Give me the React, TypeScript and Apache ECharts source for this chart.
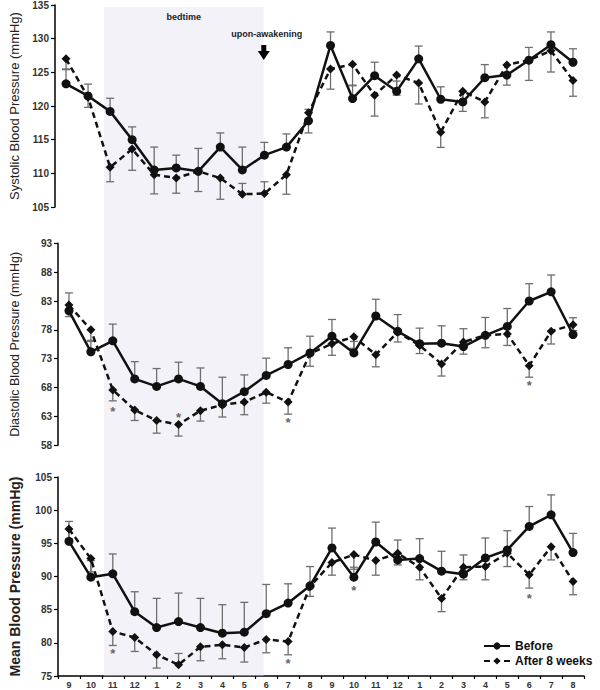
import React, { useEffect, useRef } from 'react';
import * as echarts from 'echarts';

// Clock hours (9 pm day 1 ... 8 pm day 2)
const hourLabels = ['9', '10', '11', '12', '1', '2', '3', '4', '5', '6', '7', '8', '9', '10', '11', '12', '1', '2', '3', '4', '5', '6', '7', '8'];

// Systolic
const sysBefore = [123.3, 121.5, 119.2, 115.0, 110.5, 110.8, 110.3, 113.9, 110.5, 112.7, 113.9, 117.8, 129.0, 121.1, 124.5, 122.2, 127.0, 121.0, 120.6, 124.2, 124.6, 126.8, 129.1, 126.5];
const sysAfter = [127.0, 121.3, 110.9, 113.6, 109.8, 109.3, 110.3, 109.3, 106.9, 107.0, 109.8, 119.0, 125.5, 126.2, 121.6, 124.6, 123.4, 116.1, 122.2, 120.6, 126.1, 126.8, 128.2, 123.8];
const sysBeforeErr = [2.1, 1.75, 1.95, 1.9, 3.4, 1.9, 3.4, 2.1, 3.4, 1.9, 1.95, 1.7, 2.0, 2.0, 2.0, 1.5, 1.9, 1.85, 1.5, 1.95, 1.5, 1.9, 1.9, 2.0];
// signed: negative = bar drawn downward
const sysAfterErr = [-1.5, -1.5, -2.15, -3.15, -2.85, -2.25, -3.0, -3.15, 1.6, 1.75, -2.9, -3.0, -3.0, -3.2, -3.1, -3.0, -3.1, -2.25, -3.0, -2.35, -3.0, -3.0, -3.15, -2.35];

// Diastolic
const diaBefore = [81.3, 74.2, 76.1, 69.5, 68.2, 69.5, 68.2, 65.2, 67.3, 70.1, 72.0, 74.0, 76.9, 74.0, 80.4, 77.75, 75.6, 75.7, 75.1, 77.05, 78.6, 83.0, 84.6, 77.2];
const diaAfter = [82.3, 78.0, 67.6, 64.1, 62.3, 61.6, 64.0, 65.0, 65.5, 67.2, 65.5, 73.9, 75.6, 76.8, 73.7, 77.6, 75.3, 72.1, 75.9, 77.05, 77.3, 71.8, 77.75, 78.9];
const diaBeforeErr = [3.1, 2.0, 2.9, 3.0, 3.1, 2.9, 3.2, 4.6, 2.9, 3.0, 2.9, 2.9, 2.9, 2.0, 2.9, 2.9, 2.7, 3.0, 3.1, 3.1, 3.1, 3.0, 2.9, 2.9];
const diaAfterErr = [-2.0, -2.0, -1.9, -1.8, -2.2, -2.0, -1.8, -2.1, -2.2, -1.9, -2.1, -2.2, -2.0, -2.0, -2.1, -1.7, -1.4, -2.1, -2.1, -2.15, -2.0, -2.0, -2.2, -1.0];
const diaStarIdx = [2, 5, 10, 21];
const diaStarVal = [64.3, 63.4, 62.4, 68.8];

// Mean
const meanBefore = [95.3, 89.9, 90.4, 84.7, 82.3, 83.2, 82.3, 81.45, 81.6, 84.4, 86.0, 88.6, 94.3, 89.9, 95.2, 92.5, 92.7, 90.8, 90.35, 92.8, 94.0, 97.55, 99.3, 93.6];
const meanAfter = [97.15, 92.7, 81.7, 80.8, 78.2, 76.7, 79.4, 79.7, 79.3, 80.5, 80.2, 88.5, 92.1, 93.3, 92.4, 93.5, 91.4, 86.7, 91.4, 91.5, 93.5, 90.25, 94.5, 89.25];
const meanBeforeErr = [3.0, 2.5, 3.0, 3.0, 4.4, 4.3, 4.4, 4.3, 4.5, 4.4, 2.9, 2.9, 3.0, 1.5, 3.0, 3.0, 3.0, 3.0, 2.9, 3.0, 2.9, 3.0, 3.0, 2.9];
const meanAfterErr = [-1.5, -2.0, -2.1, -2.1, -2.0, 1.7, -2.1, -2.1, -2.2, -2.0, -2.0, -1.5, -1.9, -2.2, -2.2, -1.75, -1.9, -2.0, -1.9, -2.0, -2.0, -2.0, -2.0, -2.0];
const meanStarIdx = [2, 10, 13, 21];
const meanStarVal = [78.8, 77.35, 88.4, 87.15];

const FONT = 'Liberation Sans, Arial, sans-serif';
const SHADE_START = 1.76;
const SHADE_END = 9.0;

const errData = (vals: number[], errs: number[]) => vals.map((v, i) => [i, v, v + errs[i]]);

const errRender = (_p: any, api: any) => {
  const i = api.value(0);
  const a = api.coord([i, api.value(1)]);
  const b = api.coord([i, api.value(2)]);
  const c = 4;
  const style = { stroke: '#6e6e6e', lineWidth: 1.3 };
  return {
    type: 'group',
    children: [
      { type: 'line', shape: { x1: a[0], y1: a[1], x2: b[0], y2: b[1] }, style },
      { type: 'line', shape: { x1: b[0] - c, y1: b[1], x2: b[0] + c, y2: b[1] }, style },
    ],
  };
};

const starRender = (_p: any, api: any) => {
  const p = api.coord([api.value(0), api.value(1)]);
  return {
    type: 'text',
    x: p[0],
    y: p[1] + 3,
    style: { text: '*', fill: '#666', font: `bold 13px ${FONT}`, align: 'center', verticalAlign: 'middle' },
  };
};

export default function App() {
  const ref = useRef<HTMLDivElement>(null);

  useEffect(() => {
    if (!ref.current) return;
    const chart = echarts.init(ref.current, undefined, { renderer: 'svg' });

    const grids = [
      { left: 54, top: 5, width: 530, height: 202 },
      { left: 54, top: 243.3, width: 530, height: 202 },
      { left: 54, top: 477, width: 530, height: 199 },
      { left: 54, top: 7, width: 530, height: 669 },
    ];
    const yDefs = [
      { min: 105, max: 135, name: 'Systolic Blood Pressure (mmHg)', gap: 34, size: 13, weight: 'normal' },
      { min: 58, max: 93, name: 'Diastolic Blood Pressure (mmHg)', gap: 37, size: 12.5, weight: 'normal' },
      { min: 75, max: 105, name: 'Mean Blood Pressure (mmHg)', gap: 36, size: 14, weight: 'bold' },
    ];
    const blocks = [
      { b: sysBefore, a: sysAfter, be: sysBeforeErr, ae: sysAfterErr, si: [] as number[], sv: [] as number[] },
      { b: diaBefore, a: diaAfter, be: diaBeforeErr, ae: diaAfterErr, si: diaStarIdx, sv: diaStarVal },
      { b: meanBefore, a: meanAfter, be: meanBeforeErr, ae: meanAfterErr, si: meanStarIdx, sv: meanStarVal },
    ];

    const xAxis: any[] = [0, 1, 2].map((g) => ({
      type: 'category',
      gridIndex: g,
      data: hourLabels,
      boundaryGap: true,
      axisLine: { show: g === 2, lineStyle: { color: '#000', width: 1.5 } },
      axisTick: { show: g === 2, length: 3, lineStyle: { color: '#000', width: 1.2 } },
      axisLabel: { show: g === 2, interval: 0, fontSize: 9, fontWeight: 'bold', color: '#333', margin: 4, fontFamily: FONT },
      splitLine: { show: false },
    }));
    xAxis.push({ type: 'value', gridIndex: 3, min: -0.5, max: 23.5, show: false });

    const yAxis: any[] = yDefs.map((d, g) => ({
      type: 'value',
      gridIndex: g,
      min: d.min,
      max: d.max,
      interval: 5,
      axisLine: { show: true, lineStyle: { color: '#000', width: 1.5 } },
      axisTick: { show: true, length: 4, lineStyle: { color: '#000', width: 1.2 } },
      splitLine: { show: false },
      axisLabel: { fontSize: 10, fontWeight: 'bold', color: '#333', margin: 6, fontFamily: FONT },
      name: d.name,
      nameLocation: 'middle',
      nameGap: d.gap,
      nameTextStyle: { fontSize: d.size, fontWeight: d.weight, color: '#222', fontFamily: FONT },
    }));
    yAxis.push({ type: 'value', gridIndex: 3, min: 0, max: 1, show: false });

    const series: any[] = [];
    blocks.forEach((bk, g) => {
      series.push({
        type: 'custom', xAxisIndex: g, yAxisIndex: g, z: 2, silent: true,
        data: errData(bk.b, bk.be), renderItem: errRender, encode: { x: 0, y: 1 },
      });
      series.push({
        type: 'custom', xAxisIndex: g, yAxisIndex: g, z: 2, silent: true,
        data: errData(bk.a, bk.ae), renderItem: errRender, encode: { x: 0, y: 1 },
      });
      series.push({
        name: 'After 8 weeks', type: 'line', xAxisIndex: g, yAxisIndex: g, z: 3,
        data: bk.a, symbol: 'diamond', symbolSize: 9,
        lineStyle: { color: '#111', width: 2.5, type: [6, 4] },
        itemStyle: { color: '#111' },
      });
      series.push({
        name: 'Before', type: 'line', xAxisIndex: g, yAxisIndex: g, z: 4,
        data: bk.b, symbol: 'circle', symbolSize: 9,
        lineStyle: { color: '#111', width: 2.5 },
        itemStyle: { color: '#111' },
      });
      if (bk.si.length) {
        series.push({
          type: 'custom', xAxisIndex: g, yAxisIndex: g, z: 5, silent: true,
          data: bk.si.map((idx, k) => [idx, bk.sv[k]]), renderItem: starRender, encode: { x: 0, y: 1 },
        });
      }
    });
    series.push({
      type: 'line', xAxisIndex: 3, yAxisIndex: 3, z: 10, silent: true,
      data: [[0, -1]], symbol: 'none', lineStyle: { width: 0 },
      markArea: {
        silent: true,
        itemStyle: { color: 'rgba(228,222,240,0.4)' },
        data: [[{ xAxis: SHADE_START }, { xAxis: SHADE_END }]],
      },
    });

    chart.setOption({
      animation: false,
      textStyle: { fontFamily: FONT },
      grid: grids,
      xAxis,
      yAxis,
      legend: {
        data: ['Before', 'After 8 weeks'],
        orient: 'vertical',
        left: 483,
        top: 640,
        itemWidth: 26,
        itemHeight: 9,
        itemGap: 3,
        padding: 0,
        textStyle: { fontSize: 12, fontWeight: 'bold', color: '#111', fontFamily: FONT },
      },
      series,
    });

    const midX = chart.convertToPixel({ xAxisIndex: 3 } as any, (SHADE_START + SHADE_END) / 2) as unknown as number;
    const wakeX = chart.convertToPixel({ xAxisIndex: 3 } as any, SHADE_END) as unknown as number;
    chart.setOption({
      graphic: [
        {
          type: 'text', x: midX, y: 17, z: 100,
          style: { text: 'bedtime', font: `bold 9px ${FONT}`, fill: '#222', align: 'center', verticalAlign: 'middle' },
        },
        {
          type: 'text', x: wakeX + 3, y: 34, z: 100,
          style: { text: 'upon-awakening', font: `bold 9px ${FONT}`, fill: '#222', align: 'center', verticalAlign: 'middle' },
        },
        {
          type: 'rect', z: 100,
          shape: { x: wakeX - 2.5, y: 45, width: 5, height: 7 },
          style: { fill: '#000' },
        },
        {
          type: 'polygon', z: 100,
          shape: { points: [[wakeX - 6, 51], [wakeX + 6, 51], [wakeX, 60]] },
          style: { fill: '#000' },
        },
      ],
    });

    return () => chart.dispose();
  }, []);

  return <div ref={ref} style={{ position: 'fixed', left: 0, top: 0, width: 600, height: 690, background: '#fff' }} />;
}
